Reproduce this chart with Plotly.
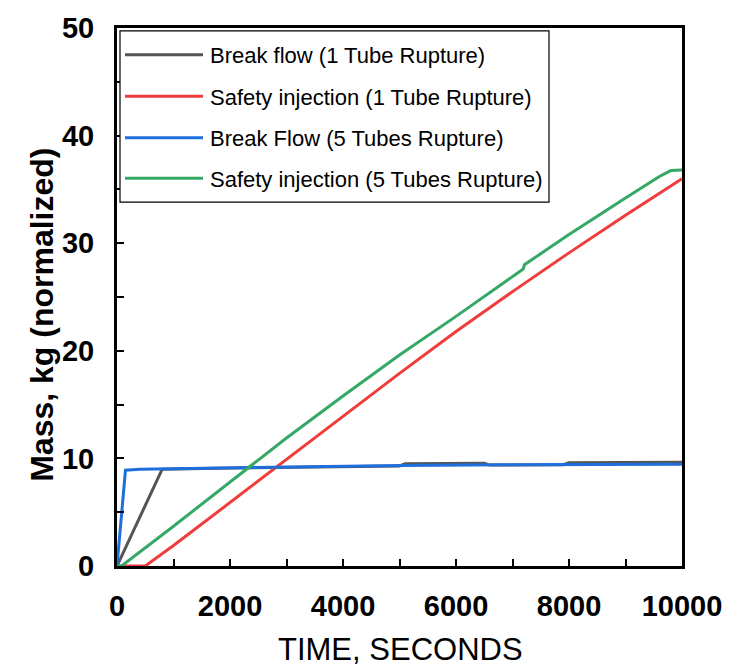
import plotly.graph_objects as go

# ---- data ----
series_names = [
    "Break flow (1 Tube Rupture)",
    "Safety injection (1 Tube Rupture)",
    "Break Flow (5 Tubes Rupture)",
    "Safety injection (5 Tubes Rupture)",
]
series_colors = ["#555555", "#f03c3c", "#1e6fdc", "#34a865"]

t_break_1 = [0, 800, 2000, 4000, 5000, 5100, 6500, 6600, 7900, 8000, 10000]
m_break_1 = [0, 9.0, 9.1, 9.25, 9.3, 9.5, 9.55, 9.38, 9.42, 9.6, 9.65]

t_si_1 = [0, 500, 1000, 2000, 3000, 4000, 5000, 6000, 7000, 8000, 9000, 10000]
m_si_1 = [0, 0, 1.9, 5.9, 9.9, 13.9, 17.9, 21.8, 25.5, 29.1, 32.6, 36.0]

t_break_5 = [0, 150, 400, 2000, 4000, 5000, 7000, 10000]
m_break_5 = [0, 8.9, 9.0, 9.1, 9.25, 9.35, 9.4, 9.45]

t_si_5 = [0, 80, 1000, 2000, 3000, 4000, 5000, 6000, 7000, 7190, 7210, 8000, 9000, 9600, 9800, 10000]
m_si_5 = [0, 0, 3.7, 7.8, 11.9, 15.8, 19.6, 23.2, 26.9, 27.6, 28.0, 30.8, 34.2, 36.2, 36.75, 36.8]

x_tickvals = list(range(0, 10001, 1000))
x_ticktext = [str(v) if v % 2000 == 0 else "" for v in x_tickvals]
y_tickvals = list(range(0, 51, 5))
y_ticktext = [str(v) if v % 10 == 0 else "" for v in y_tickvals]

FONT = "Liberation Sans, Arial, sans-serif"

fig = go.Figure()
for name, color, t, m in zip(
    series_names, series_colors,
    [t_break_1, t_si_1, t_break_5, t_si_5],
    [m_break_1, m_si_1, m_break_5, m_si_5],
):
    fig.add_trace(go.Scatter(x=t, y=m, mode="lines", name=name,
                             line=dict(color=color, width=3), showlegend=False))

# ---- legend drawn as a boxed list ----
L_PX, T_PX, B_PX = 117, 22, 566
pw, ph = 682 - L_PX, B_PX - T_PX
def px(x):
    return (x - L_PX) / pw
def py(y):
    return (B_PX - y) / ph

shapes = [dict(type="rect", xref="paper", yref="paper",
               x0=px(120), x1=px(549), y0=py(198), y1=py(25),
               line=dict(color="black", width=1.2), fillcolor="white", layer="above")]
annotations = []
row_y = [49, 91, 133, 174]
for name, color, ry in zip(series_names, series_colors, row_y):
    shapes.append(dict(type="line", xref="paper", yref="paper",
                       x0=px(125), x1=px(203), y0=py(ry), y1=py(ry),
                       line=dict(color=color, width=3), layer="above"))
    annotations.append(dict(text=name, xref="paper", yref="paper",
                            x=px(208), y=py(ry + 1), xanchor="left", yanchor="middle",
                            showarrow=False, font=dict(family=FONT, size=22, color="black")))

annotations.append(dict(text="TIME, SECONDS", xref="paper", yref="paper",
                        x=px(400), y=py(650), xanchor="center", yanchor="middle",
                        showarrow=False, font=dict(family=FONT, size=31, color="black")))
annotations.append(dict(text="<b>Mass, kg (normalized)</b>", xref="paper", yref="paper",
                        x=px(42), y=py(312), xanchor="center", yanchor="middle",
                        textangle=-90, showarrow=False,
                        font=dict(family=FONT, size=32, color="black")))

axis_common = dict(showline=True, linecolor="black", linewidth=3, mirror=True,
                   ticks="inside", ticklen=7, tickwidth=2, tickcolor="black",
                   showgrid=False, zeroline=False, tickmode="array",
                   tickfont=dict(family=FONT, size=29, color="black", weight="bold"))

fig.update_layout(
    width=737, height=670,
    margin=dict(l=117, r=55, t=22, b=104),
    paper_bgcolor="white", plot_bgcolor="white",
    xaxis=dict(range=[0, 10000], tickvals=x_tickvals, ticktext=x_ticktext,
               ticklabelstandoff=12, **axis_common),
    yaxis=dict(range=[0, 50], tickvals=y_tickvals, ticktext=y_ticktext,
               ticklabelstandoff=14, **axis_common),
    shapes=shapes, annotations=annotations,
)

fig.write_html("out.html")
